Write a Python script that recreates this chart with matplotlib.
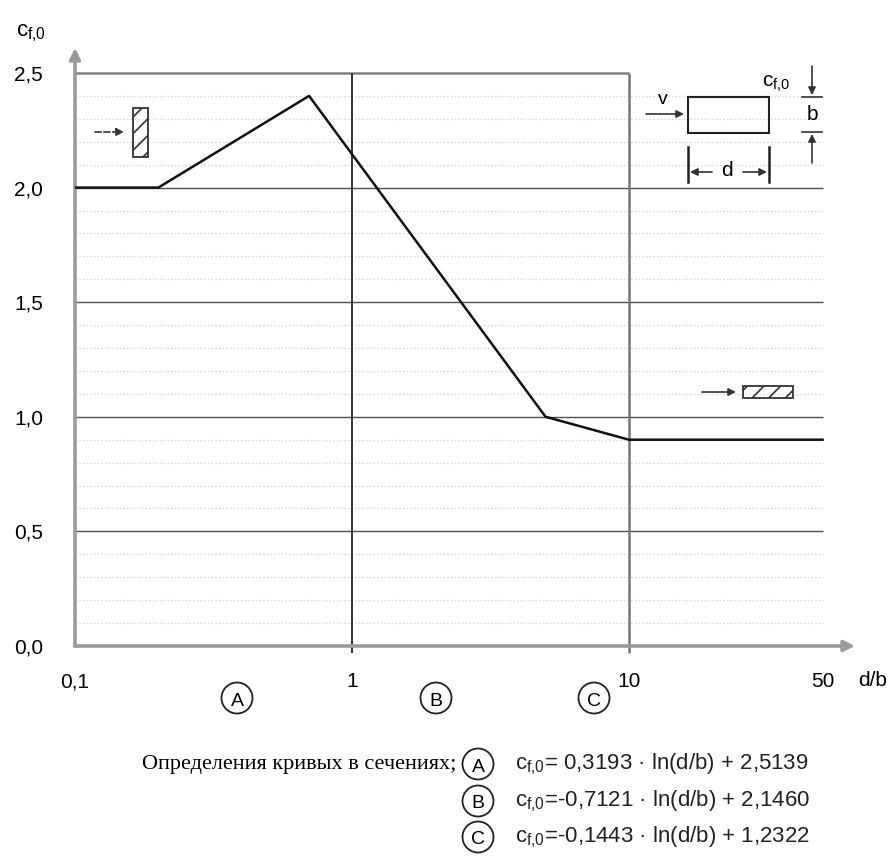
import matplotlib.pyplot as plt
from matplotlib.patches import Circle, Rectangle
from matplotlib.ticker import NullLocator

plt.rcParams['font.family'] = ['Liberation Sans', 'DejaVu Sans']
plt.rcParams['mathtext.default'] = 'regular'
plt.rcParams['hatch.linewidth'] = 1.2

# curve c_f,0 over d/b
d_over_b = [0.1, 0.2, 0.7, 5.0, 10.0, 50.0]
cf0 = [2.0, 2.0, 2.4, 1.0, 0.9, 0.9]

x_ticks = [0.1, 1, 10, 50]
x_tick_labels = ['0,1', '1', '10', '50']
y_ticks = [0.0, 0.5, 1.0, 1.5, 2.0, 2.5]
y_tick_labels = ['0,0', '0,5', '1,0', '1,5', '2,0', '2,5']
major_levels = [0.5, 1.0, 1.5, 2.0]
minor_levels = [0.1, 0.2, 0.3, 0.4, 0.6, 0.7, 0.8, 0.9, 1.1, 1.2, 1.3, 1.4,
                1.6, 1.7, 1.8, 1.9, 2.1, 2.2, 2.3, 2.4]
section_bounds = [1, 10]
section_names = ['A', 'B', 'C']
formulas = [
    '$c_{f{,}0}$= 0,3193 · ln(d/b) + 2,5139',
    '$c_{f{,}0}$=-0,7121 · ln(d/b) + 2,1460',
    '$c_{f{,}0}$=-0,1443 · ln(d/b) + 1,2322',
]
caption = 'Определения кривых в сечениях;'

W, H = 894, 866
fig = plt.figure(figsize=(W / 100, H / 100), dpi=100)
ax = fig.add_axes([75 / W, 1 - 646 / H, 780 / W, 598 / H])
ax.set_xscale('log')
ax.set_xlim(0.1, 65.5)
ax.set_ylim(0, 2.609)
for s in ax.spines.values():
    s.set_visible(False)
ax.xaxis.set_minor_locator(NullLocator())
ax.tick_params(which='both', length=0)
ax.set_xticks(x_ticks, x_tick_labels, fontsize=15)
ax.set_yticks(y_ticks, y_tick_labels, fontsize=15)
ax.tick_params(axis='x', pad=19)
ax.tick_params(axis='y', pad=23)

# grid
ax.hlines(minor_levels, 0.1, 50, colors='#d4d4d4', linestyles=':', lw=1.0)
ax.hlines(major_levels, 0.1, 50, colors='#505050', lw=1.0)
ax.hlines(2.5, 0.1, 10, colors='#808080', lw=1.8)
ax.vlines(section_bounds[0], -0.03, 2.5, colors='#111111', lw=1.2, clip_on=False)
ax.vlines(section_bounds[1], -0.03, 2.5, colors='#777777', lw=1.8, clip_on=False)

# axes with arrows
arrow_kw = dict(arrowstyle='-|>', color='#9a9a9a', lw=2.6, mutation_scale=16,
                shrinkA=0, shrinkB=0)
ax.annotate('', xy=(1, 0), xytext=(0, 0), xycoords='axes fraction',
            arrowprops=arrow_kw, annotation_clip=False)
ax.annotate('', xy=(0, 1), xytext=(0, 0), xycoords='axes fraction',
            arrowprops=arrow_kw, annotation_clip=False)

ax.plot(d_over_b, cf0, color='#111111', lw=1.8, zorder=5)

# overlay in pixel coordinates for the sketches and notes
ov = fig.add_axes([0, 0, 1, 1], zorder=3)
ov.set_xlim(0, W)
ov.set_ylim(H, 0)
ov.axis('off')
ov.patch.set_alpha(0)

ov.text(31, 33, '$c_{f{,}0}$', fontsize=16, ha='center', va='center')
ov.text(873, 680, 'd/b', fontsize=15, ha='center', va='center')


def circled(x, y, name):
    ov.add_patch(Circle((x, y), 15.5, fill=False, ec='#222222', lw=1.3))
    ov.text(x, y + 1, name, fontsize=14, ha='center', va='center_baseline')


for name, x in zip(section_names, [237, 436, 594]):
    circled(x, 698, name)

small_arrow = dict(arrowstyle='-|>', color='#333333', lw=1.2, mutation_scale=11,
                   shrinkA=0, shrinkB=0)

# upright plate
ov.add_patch(Rectangle((133, 108), 15, 49, fill=False, ec='#333333', lw=1.3, hatch='//'))
ov.annotate('', xy=(124, 132), xytext=(95, 132), arrowprops=dict(small_arrow, ls='--'))

# flat plate
ov.add_patch(Rectangle((743, 386), 50, 12, fill=False, ec='#333333', lw=1.3, hatch='//'))
ov.annotate('', xy=(736, 392), xytext=(702, 392), arrowprops=small_arrow)

# section sketch, top right
ov.add_patch(Rectangle((688, 97), 81, 36, fill=False, ec='#222222', lw=1.5))
ov.annotate('', xy=(684, 114), xytext=(646, 114), arrowprops=small_arrow)
ov.text(663, 100, 'v', fontsize=14, ha='center', va='center')
ov.text(776, 84, '$c_{f{,}0}$', fontsize=15, ha='center', va='center')
ov.annotate('', xy=(812, 95), xytext=(812, 66), arrowprops=small_arrow)
ov.annotate('', xy=(812, 134), xytext=(812, 163), arrowprops=small_arrow)
ov.plot([802, 822], [97, 97], color='#333333', lw=1.2)
ov.plot([802, 822], [132, 132], color='#333333', lw=1.2)
ov.text(812, 115, 'b', fontsize=15, ha='center', va='center')
ov.plot([688, 688], [147, 182], color='#222222', lw=1.8)
ov.plot([769, 769], [147, 182], color='#222222', lw=1.8)
ov.annotate('', xy=(690, 172), xytext=(712, 172), arrowprops=small_arrow)
ov.annotate('', xy=(767, 172), xytext=(743, 172), arrowprops=small_arrow)
ov.text(727, 171, 'd', fontsize=15, ha='center', va='center')

# formulas below the chart
ov.text(142, 764, caption, fontsize=16, family=['Liberation Serif', 'DejaVu Serif'],
        ha='left', va='center')
for name, formula, y in zip(section_names, formulas, [764, 801, 837]):
    circled(478, y, name)
    ov.text(515, y, formula, fontsize=16, ha='left', va='center', color='#222222')

fig.savefig('out.png', dpi=100)
